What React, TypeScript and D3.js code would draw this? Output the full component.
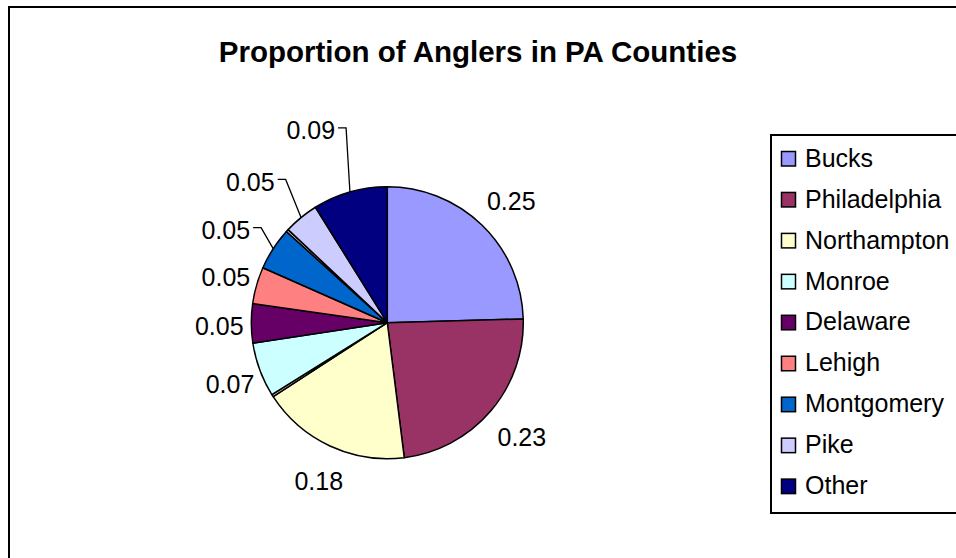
import React from "react";
import * as d3 from "d3";

// ---- data ----
const categories = ["Bucks", "Philadelphia", "Northampton", "", "Monroe", "Delaware", "Lehigh", "Montgomery", "", "Pike", "Other"];
const values = [0.2456, 0.2344, 0.1783, 0.003, 0.0644, 0.0467, 0.0436, 0.0508, 0.003, 0.0414, 0.0886];
const valueLabels = ["0.25", "0.23", "0.18", "", "0.07", "0.05", "0.05", "0.05", "", "0.05", "0.09"];
const palette = ["#9999FF", "#993366", "#FFFFCC", "#C8C8C8", "#CCFFFF", "#660066", "#FF8080", "#0066CC", "#C8C8C8", "#CCCCFF", "#000080"];
const title = "Proportion of Anglers in PA Counties";

const W = 956;
const H = 558;
const FONT = "'Liberation Sans', Arial, sans-serif";

export default function App() {
  const cx = 387.3;
  const cy = 322.7;
  const r = 136;

  const pie = d3.pie<number>().sort(null).value((d) => d);
  const arcs = pie(values);
  const arc = d3.arc<d3.PieArcDatum<number>>().innerRadius(0).outerRadius(r);

  const textHalfW = 24.3;
  // label ring (slightly offset from the pie centre, like the original layout)
  const lcx = cx + 4;
  const lcy = cy + 2;
  const labelR = 172;

  const labelEls: React.ReactNode[] = [];
  arcs.forEach((a, i) => {
    const txt = valueLabels[i];
    if (!txt) return;
    const mid = (a.startAngle + a.endAngle) / 2;
    const deg = (mid * 180) / Math.PI;
    const s = Math.sin(mid);
    const c = Math.cos(mid);
    if (deg > 295) {
      // leader-line label
      const kAng = mid + (4 * Math.PI) / 180;
      const rk = r + 20 + (deg - 301);
      const kx = cx + rk * Math.sin(kAng);
      const ky = cy - rk * Math.cos(kAng);
      const ex = cx + r * s;
      const ey = cy - r * c;
      const lx = kx - 11 - textHalfW;
      const ly = ky + 2.5;
      const path = d3.path();
      path.moveTo(ex, ey);
      path.lineTo(kx, ky);
      path.lineTo(kx - 8, ky);
      labelEls.push(
        <g key={"l" + i}>
          <path d={path.toString()} fill="none" stroke="#000" strokeWidth={1.3} />
          <text x={lx} y={ly + 9} textAnchor="middle" fontSize={25} fontFamily={FONT} fill="#000">
            {txt}
          </text>
        </g>
      );
    } else {
      const lx = lcx + labelR * s;
      const ly = lcy - labelR * c;
      labelEls.push(
        <text key={"l" + i} x={lx} y={ly + 9} textAnchor="middle" fontSize={25} fontFamily={FONT} fill="#000">
          {txt}
        </text>
      );
    }
  });

  const legendItems = categories
    .map((name, i) => ({ name, color: palette[i] }))
    .filter((d) => d.name !== "");
  const rowStep = 40.95;

  return (
    <svg width={W} height={H} style={{ position: "absolute", left: 0, top: 0, background: "#fff" }}>
      <rect x={0} y={0} width={W} height={H} fill="#fff" />
      <rect x={9} y={7} width={1000} height={600} fill="#fff" stroke="#000" strokeWidth={2} />
      <text x={478} y={62} textAnchor="middle" fontSize={29.5} fontWeight="bold" fontFamily={FONT} fill="#000">
        {title}
      </text>
      <g transform={`translate(${cx},${cy})`}>
        {arcs.map((a, i) => (
          <path key={i} d={arc(a) || ""} fill={palette[i]} stroke="#000" strokeWidth={1.5} strokeLinejoin="round" />
        ))}
      </g>
      {labelEls}
      <rect x={771} y={135} width={260} height={378} fill="#fff" stroke="#000" strokeWidth={2} />
      {legendItems.map((d, i) => (
        <g key={d.name} transform={`translate(0,${i * rowStep})`}>
          <rect x={781.5} y={151.5} width={14} height={14.5} fill={d.color} stroke="#000" strokeWidth={1.5} />
          <text x={805} y={166.7} fontSize={25} fontFamily={FONT} fill="#000">
            {d.name}
          </text>
        </g>
      ))}
    </svg>
  );
}
